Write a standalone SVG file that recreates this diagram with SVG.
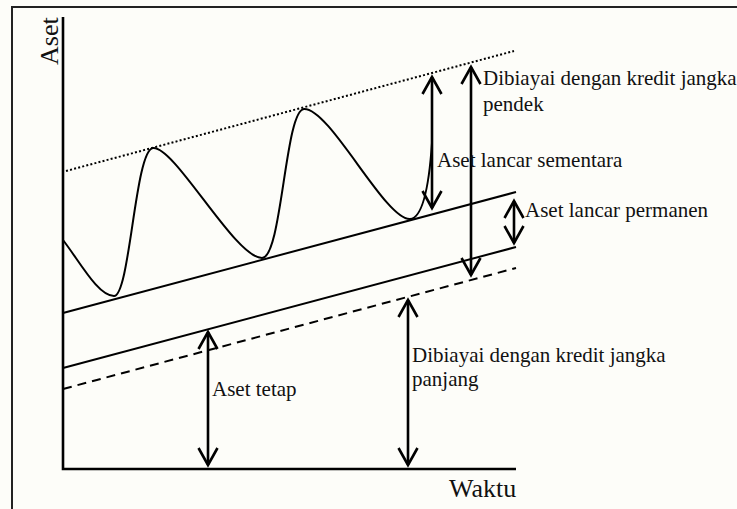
<svg xmlns="http://www.w3.org/2000/svg" width="737" height="509" viewBox="0 0 737 509">
  <style>
    .frame { fill: none; stroke: #222; stroke-width: 2; }
    .axis { fill: none; stroke: #000; stroke-width: 2.6; }
    .band { fill: none; stroke: #000; stroke-width: 2; }
    .dotted { fill: none; stroke: #000; stroke-width: 2; stroke-dasharray: 2 2.2; }
    .dashed { fill: none; stroke: #000; stroke-width: 2; stroke-dasharray: 9 6; }
    .wave { fill: none; stroke: #000; stroke-width: 2; }
    .arrow { fill: none; stroke: #000; stroke-width: 2.6; marker-start: url(#head); marker-end: url(#head); }
    .lbl { font-family: "Liberation Serif", "Times New Roman", serif; font-size: 21px; fill: #111; }
    .axlbl { font-family: "Liberation Serif", "Times New Roman", serif; font-size: 26px; fill: #111; }
  </style>
  <defs>
    <marker id="head" markerUnits="userSpaceOnUse" viewBox="-20 -12 24 24" refX="0" refY="0" markerWidth="24" markerHeight="24" orient="auto-start-reverse" overflow="visible">
      <path d="M-17,-9.5 L0,0 L-17,9.5" fill="none" stroke="#000" stroke-width="2.6" stroke-linejoin="miter"/>
    </marker>
  </defs>

  <rect x="0" y="0" width="737" height="509" fill="#fdfdf9"/>
  <rect class="frame" x="12" y="7" width="740" height="520"/>

  <!-- axes -->
  <g id="axes">
    <path class="axis" d="M63,17 L63,469 L516,469"/>
    <text class="axlbl" transform="translate(58,65) rotate(-90)">Aset</text>
    <text class="axlbl" x="449" y="497">Waktu</text>
  </g>

  <!-- parallel trend lines -->
  <g id="trend-lines">
    <path id="peak-line" class="dotted" d="M66,171 L514,51"/>
    <path id="permanent-top" class="band" d="M63,313 L516,192"/>
    <path id="permanent-base" class="band" d="M63,368 L516,247"/>
    <path id="fixed-top" class="dashed" d="M63,389 L516,268"/>
  </g>

  <!-- fluctuating total assets -->
  <g id="asset-wave">
    <path class="wave" d="M63,240 C80,262 98,296 114,296 C130,296 135,150 153,148 C175,146 235,258 262,258 C282,258 285,110 304,109 C330,108 385,220 410,219 C425,218 430,172 432,143"/>
  </g>

  <!-- dimension arrows -->
  <g id="connectors">
    <line class="arrow" x1="432" y1="77" x2="432" y2="208"/>
    <line class="arrow" x1="471" y1="67" x2="471" y2="275"/>
    <line class="arrow" x1="514" y1="201" x2="514" y2="243"/>
    <line class="arrow" x1="208" y1="332" x2="208" y2="465"/>
    <line class="arrow" x1="408" y1="300" x2="408" y2="465"/>
  </g>

  <g id="label-short-term">
    <text class="lbl" x="483" y="85">Dibiayai dengan kredit jangka</text>
    <text class="lbl" x="483" y="111">pendek</text>
  </g>
  <g id="label-temporary">
    <text class="lbl" x="437" y="167">Aset lancar sementara</text>
  </g>
  <g id="label-permanent">
    <text class="lbl" x="525" y="217">Aset lancar permanen</text>
  </g>
  <g id="label-fixed">
    <text class="lbl" x="212" y="396">Aset tetap</text>
  </g>
  <g id="label-long-term">
    <text class="lbl" x="412" y="362">Dibiayai dengan kredit jangka</text>
    <text class="lbl" x="412" y="386">panjang</text>
  </g>
</svg>
